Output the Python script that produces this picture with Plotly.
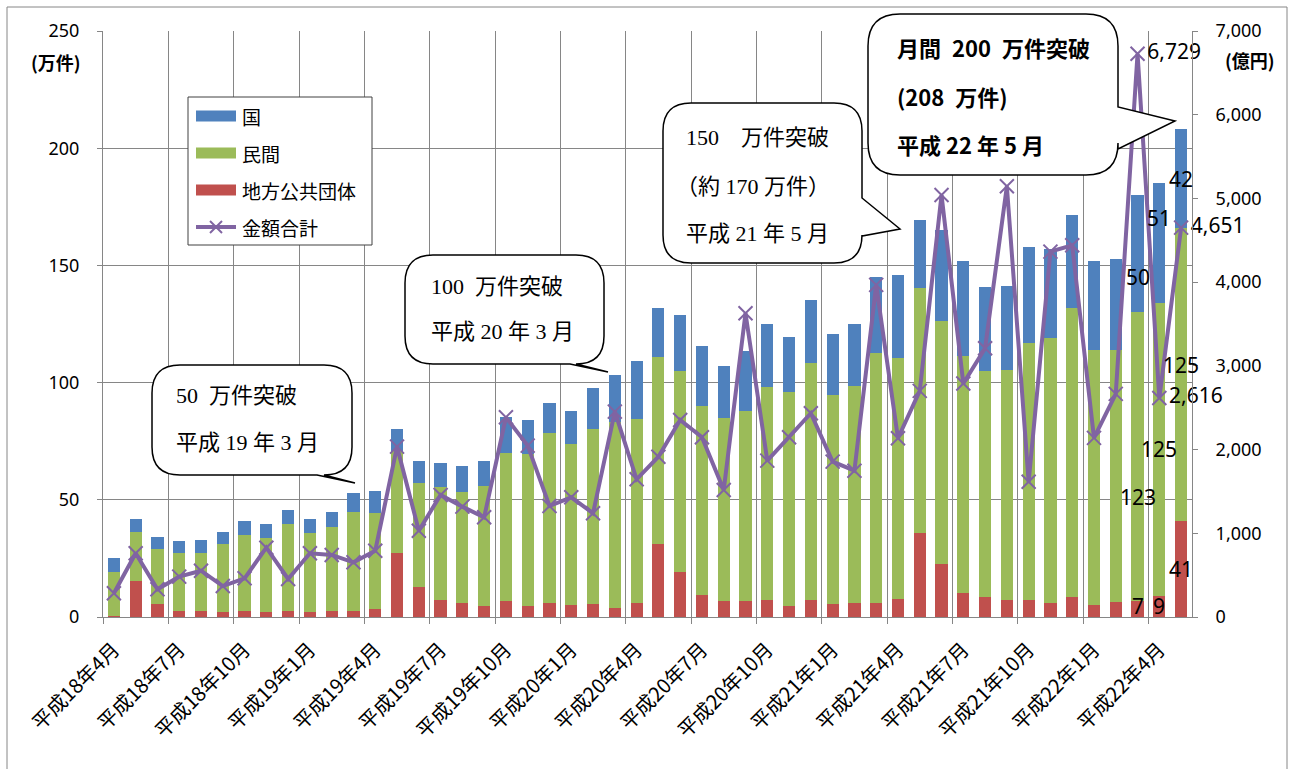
import plotly.graph_objects as go

# ---------------- data ----------------
months = []
for yr, ms in [(18, range(4, 13)), (19, range(1, 13)), (20, range(1, 13)), (21, range(1, 13)), (22, range(1, 6))]:
    for m in ms:
        months.append(f"平成{yr}年{m}月")

tick_labels = ["平成18年4月", "平成18年7月", "平成18年10月", "平成19年1月", "平成19年4月",
               "平成19年7月", "平成19年10月", "平成20年1月", "平成20年4月", "平成20年7月",
               "平成20年10月", "平成21年1月", "平成21年4月", "平成21年7月", "平成21年10月",
               "平成22年1月", "平成22年4月"]

# 万件
chiho = [0.3, 15.4, 5.4, 2.7, 2.7, 2.3, 2.7, 2.3, 2.7, 2.3, 2.7, 2.7, 3.5, 27.2, 12.7, 7.3, 6.1,
         4.8, 6.8, 4.8, 6.1, 5.0, 5.5, 4.0, 6.1, 31.0, 19.3, 9.4, 6.8, 6.8, 7.3, 4.8, 7.3, 5.4,
         6.1, 6.1, 7.5, 36.0, 22.8, 10.1, 8.4, 7.3, 7.3, 5.9, 8.4, 5.0, 6.4, 7, 9, 41]
minkan = [19.0, 21.0, 23.6, 24.5, 24.5, 28.8, 32.3, 31.5, 37.0, 33.5, 35.6, 42.1, 40.9, 43.8,
          44.6, 48.0, 47.4, 51.2, 63.0, 64.6, 72.3, 68.7, 74.7, 79.0, 78.2, 80.1, 85.8, 80.6,
          78.0, 81.2, 90.7, 91.2, 101.2, 89.3, 92.6, 106.4, 102.8, 104.4, 103.6, 101.1, 96.5,
          98.0, 109.8, 113.1, 123.3, 108.7, 107.3, 123, 125, 125]
kuni = [6.0, 5.3, 5.3, 5.1, 5.8, 5.2, 5.8, 5.7, 5.8, 5.9, 6.5, 8.0, 9.5, 9.2, 9.1, 10.4, 10.9,
        10.4, 15.7, 14.6, 12.9, 14.3, 17.6, 20.1, 24.9, 20.9, 23.6, 25.6, 22.3, 25.6, 26.9,
        23.6, 26.7, 26.0, 26.2, 32.7, 35.8, 28.8, 38.6, 40.6, 35.9, 36.0, 40.7, 38.1, 39.9,
        38.1, 39.0, 50, 51, 42]
# 億円
kingaku = [283, 761, 331, 482, 553, 370, 462, 828, 454, 761, 741, 653, 792, 2035, 1031, 1458,
           1318, 1191, 2386, 2047, 1326, 1430, 1239, 2453, 1645, 1915, 2354, 2147, 1517, 3628,
           1868, 2147, 2434, 1856, 1748, 3967, 2135, 2701, 5040, 2790, 3210, 5145, 1615, 4365,
           4440, 2140, 2665, 6729, 2616, 4651]

labeled_idx = [47, 48, 49]  # months whose values are annotated

# ---------------- styling ----------------
BLUE, GREEN, RED, PURPLE = "#4F81BD", "#9BBB59", "#C0504D", "#8064A2"
GRID = "#868686"
FONT = "Noto Sans CJK JP"
SERIF = "Liberation Serif, DejaVu Serif, Noto Sans CJK JP"
SP = "\u2002"  # en space

W, H = 1293, 769
L, R, T, B = 103, 101, 31, 152
PW, PH = W - L - R, H - T - B


def px(x):
    return (x - L) / PW


def py(y):
    return (H - B - y) / PH


def P(x, y):
    return f"{px(x):.5f} {py(y):.5f}"


def bubble_path(x0, y0, x1, y1, r, side, tail):
    s = [f"M {P(x0 + r, y0)}", f"L {P(x1 - r, y0)}", f"Q {P(x1, y0)} {P(x1, y0 + r)}"]
    if side == "right":
        ta, tip, tb = tail
        s += [f"L {P(x1, ta)}", f"L {P(*tip)}", f"L {P(x1, tb)}"]
    s += [f"L {P(x1, y1 - r)}", f"Q {P(x1, y1)} {P(x1 - r, y1)}"]
    if side == "bottom":
        tip, lb = tail
        s += [f"L {P(*tip)}", f"L {P(lb, y1)}"]
    s += [f"L {P(x0 + r, y1)}", f"Q {P(x0, y1)} {P(x0, y1 - r)}",
          f"L {P(x0, y0 + r)}", f"Q {P(x0, y0)} {P(x0 + r, y0)}", "Z"]
    return " ".join(s)


xs = list(range(len(months)))

fig = go.Figure()
fig.add_trace(go.Bar(x=xs, y=chiho, name="地方公共団体", marker=dict(color=RED, line=dict(width=0)),
                     showlegend=False, hovertext=months))
fig.add_trace(go.Bar(x=xs, y=minkan, name="民間", marker=dict(color=GREEN, line=dict(width=0)),
                     showlegend=False, hovertext=months))
fig.add_trace(go.Bar(x=xs, y=kuni, name="国", marker=dict(color=BLUE, line=dict(width=0)),
                     showlegend=False, hovertext=months))

line_text = [f"{v:,}" if i in labeled_idx else "" for i, v in enumerate(kingaku)]
fig.add_trace(go.Scatter(x=xs, y=kingaku, name="金額合計", yaxis="y2", mode="lines+markers+text",
                         line=dict(color=PURPLE, width=4),
                         marker=dict(symbol="x-thin", size=14, color=PURPLE, line=dict(width=2, color=PURPLE)),
                         text=line_text, textposition="middle right",
                         textfont=dict(family="Noto Sans", size=21, color="black"),
                         cliponaxis=False, showlegend=False, hovertext=months))

# ---------------- annotations for bar segments ----------------
annotations = []
seg_shift = {(47, "kuni"): -23, (47, "minkan"): -41, (47, "chiho"): 3,
             (48, "kuni"): 25, (49, "minkan"): 9}
for i in labeled_idx:
    base = 0
    for key, arr in [("chiho", chiho), ("minkan", minkan), ("kuni", kuni)]:
        v = arr[i]
        annotations.append(dict(x=i, y=base + v / 2, xref="x", yref="y", text=f"{v:g}",
                                showarrow=False, yshift=seg_shift.get((i, key), 0),
                                font=dict(family="Noto Sans", size=21, color="black")))
        base += v

# axis unit labels
annotations.append(dict(x=px(56), y=py(62), xref="paper", yref="paper", text="<b>(万件)</b>",
                        xanchor="center", yanchor="middle",
                        showarrow=False, font=dict(family=FONT, size=18, color="black")))
annotations.append(dict(x=px(1250), y=py(60), xref="paper", yref="paper", text="<b>(億円)</b>",
                        xanchor="center", yanchor="middle",
                        showarrow=False, font=dict(family=FONT, size=18, color="black")))

# ---------------- callouts ----------------
shapes = []
bubbles = [
    dict(rect=(152, 365, 352, 475, 28), side="bottom", tail=((355, 483), 317),
         lines=[(f"50{SP}万件突破", 395, 0), ("平成 19 年 3 月", 442, 0)], x=174, font=SERIF,
         bold=False, size=22),
    dict(rect=(405, 255, 604, 364, 28), side="bottom", tail=((608, 372), 570),
         lines=[(f"100{SP}万件突破", 286, 0), ("平成 20 年 3 月", 331, 0)], x=429, font=SERIF,
         bold=False, size=22),
    dict(rect=(663, 103, 862, 263, 28), side="right", tail=(198, (900, 229), 236),
         lines=[(f"150{SP}{SP}万件突破", 137, 0), ("（約 170 万件）", 186, -10),
                ("平成 21 年 5 月", 233, 0)], x=684, font=SERIF, bold=False, size=22),
    dict(rect=(868, 14, 1118, 175, 32), side="right", tail=(107, (1175, 121), 149),
         lines=[(f"月間{SP}200{SP}万件突破", 47, 0), (f"(208{SP}万件)", 96, 0),
                ("平成 22 年 5 月", 144, 0)], x=895, font=FONT, bold=True, size=22),
]
for b in bubbles:
    x0, y0, x1, y1, r = b["rect"]
    shapes.append(dict(type="path", xref="paper", yref="paper",
                       path=bubble_path(x0, y0, x1, y1, r, b["side"], b["tail"]),
                       line=dict(color="black", width=1.5), fillcolor="white", layer="above"))
    for txt, yy, dx in b["lines"]:
        t = f"<b>{txt}</b>" if b["bold"] else txt
        annotations.append(dict(x=px(b["x"] + dx), y=py(yy), xref="paper", yref="paper", text=t,
                                xanchor="left", yanchor="middle", showarrow=False,
                                font=dict(family=b["font"], size=b["size"], color="black")))

# ---------------- custom legend ----------------
shapes.append(dict(type="rect", xref="paper", yref="paper", x0=px(188), x1=px(372), y0=py(97), y1=py(245),
                   line=dict(color="#404040", width=1), fillcolor="white", layer="above"))
legend_items = [("国", BLUE, 116), ("民間", GREEN, 153), ("地方公共団体", RED, 190)]
for name, col, yy in legend_items:
    shapes.append(dict(type="rect", xref="paper", yref="paper", x0=px(196), x1=px(236),
                       y0=py(yy - 5.5), y1=py(yy + 5.5), line=dict(width=0), fillcolor=col, layer="above"))
    annotations.append(dict(x=px(240), y=py(yy), xref="paper", yref="paper", text=name, xanchor="left",
                            yanchor="middle", showarrow=False, font=dict(family=FONT, size=19, color="black")))
ly = 227
shapes.append(dict(type="line", xref="paper", yref="paper", x0=px(196), x1=px(236), y0=py(ly), y1=py(ly),
                   line=dict(color=PURPLE, width=4), layer="above"))
for dx0, dy0, dx1, dy1 in [(-6, -6, 6, 6), (-6, 6, 6, -6)]:
    shapes.append(dict(type="line", xref="paper", yref="paper", x0=px(216 + dx0), x1=px(216 + dx1),
                       y0=py(ly + dy0), y1=py(ly + dy1), line=dict(color=PURPLE, width=2), layer="above"))
annotations.append(dict(x=px(240), y=py(ly), xref="paper", yref="paper", text="金額合計", xanchor="left",
                        yanchor="middle", showarrow=False, font=dict(family=FONT, size=19, color="black")))

# outer chart-area border
shapes.append(dict(type="rect", xref="paper", yref="paper", x0=px(7), x1=px(1287), y0=py(7), y1=py(790),
                   line=dict(color=GRID, width=1), fillcolor="rgba(0,0,0,0)", layer="below"))

fig.update_layout(
    width=W, height=H, margin=dict(l=L, r=R, t=T, b=B, autoexpand=False),
    paper_bgcolor="white", plot_bgcolor="white",
    barmode="stack", bargap=0.44, showlegend=False,
    font=dict(family=FONT, size=17, color="black"),
    xaxis=dict(range=[-0.5, len(months) - 0.5], tickmode="array", tickvals=xs[::3], ticktext=tick_labels,
               tickangle=-45, ticks="", showgrid=False, zeroline=False,
               showline=True, linecolor=GRID, linewidth=1,
               tickfont=dict(family=FONT, size=20, color="black"), ticklabelstandoff=12,
               minor=dict(tickmode="array", tickvals=[i - 0.5 for i in xs[::3]], ticks="outside", ticklen=6,
                          tickcolor=GRID, showgrid=True, gridcolor=GRID, gridwidth=1)),
    yaxis=dict(range=[0, 250], dtick=50, ticks="outside", ticklen=5, tickcolor=GRID,
               showgrid=True, gridcolor=GRID, gridwidth=1, zeroline=False,
               showline=True, linecolor=GRID, linewidth=1,
               tickfont=dict(family="Noto Sans", size=18, color="black"), ticklabelstandoff=14),
    yaxis2=dict(range=[0, 7000], dtick=1000, tickformat=",", overlaying="y", side="right",
                ticks="outside", ticklen=5, tickcolor=GRID, showgrid=False, zeroline=False,
                showline=True, linecolor=GRID, linewidth=1,
                tickfont=dict(family="Noto Sans", size=18, color="black"), ticklabelstandoff=14),
    shapes=shapes, annotations=annotations,
)

fig.write_html("out.html", config={"displayModeBar": False},
               post_script="document.body.style.margin='0';document.body.style.overflow='hidden';")
